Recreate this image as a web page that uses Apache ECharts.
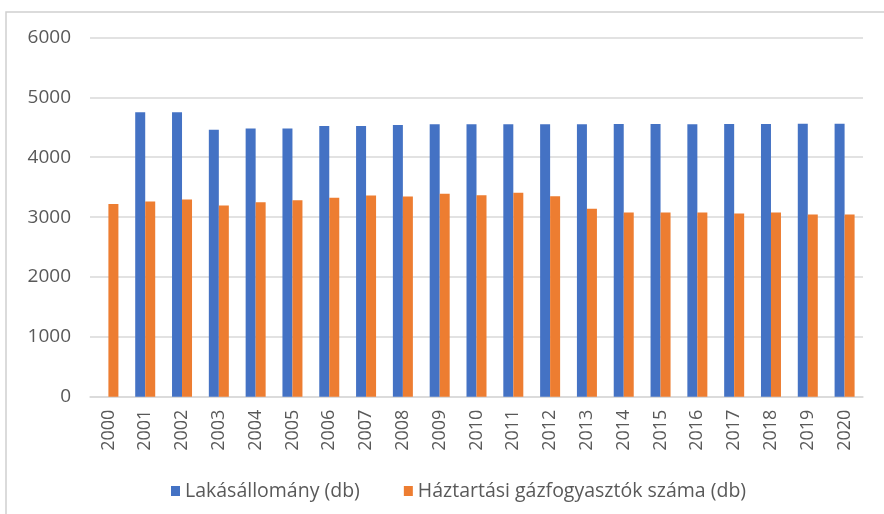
<!DOCTYPE html>
<html>
<head>
<meta charset="utf-8">
<script src="https://cdn.jsdelivr.net/npm/echarts@6/dist/echarts.min.js"></script>
<style>
  html, body { margin: 0; padding: 0; background: #fff; }
  #chart { width: 884px; height: 514px; }
</style>
</head>
<body>
<div id="chart"></div>
<script>
// Years on the category axis
const years = ['2000','2001','2002','2003','2004','2005','2006','2007','2008','2009','2010',
               '2011','2012','2013','2014','2015','2016','2017','2018','2019','2020'];

// Housing stock (dwellings) – no figure for 2000
const lakasallomany = [null, 4750, 4750, 4460, 4480, 4480, 4520, 4520, 4540, 4550, 4550,
                       4550, 4550, 4550, 4555, 4555, 4550, 4555, 4555, 4560, 4560];

// Household gas consumers
const gazfogyasztok = [3220, 3260, 3295, 3195, 3250, 3280, 3325, 3360, 3345, 3390, 3365,
                       3405, 3350, 3140, 3075, 3075, 3075, 3060, 3075, 3045, 3045];

// Value axis ticks
const yTicks = { min: 0, max: 6000, step: 1000 };

const seriesNames = ['Lakásállomány (db)', 'Háztartási gázfogyasztók száma (db)'];

const chart = echarts.init(document.getElementById('chart'), null, { renderer: 'canvas' });
const font = 'Open Sans, Liberation Sans, sans-serif';
const textGray = '#595959';

chart.setOption({
  animation: false,
  backgroundColor: '#ffffff',
  textStyle: { fontFamily: font },
  graphic: [
    {
      type: 'polyline',
      shape: { points: [[6, 514], [6, 12], [884, 12]] },
      style: { stroke: '#d0d0d0', lineWidth: 1.5, fill: null },
      silent: true
    }
  ],
  grid: { left: 90, right: 21, top: 37.5, bottom: 117.3, containLabel: false },
  legend: {
    left: 166,
    top: 476,
    itemWidth: 9,
    itemHeight: 10,
    itemGap: 44,
    icon: 'rect',
    textStyle: { color: textGray, fontSize: 19.5, fontFamily: font },
    data: seriesNames
  },
  xAxis: {
    type: 'category',
    data: years,
    boundaryGap: true,
    axisLine: { show: true, lineStyle: { color: '#d9d9d9', width: 1.5 } },
    axisTick: { show: false },
    axisLabel: { rotate: 90, color: textGray, fontSize: 18, margin: 13, fontFamily: font }
  },
  yAxis: {
    type: 'value',
    min: yTicks.min,
    max: yTicks.max,
    interval: yTicks.step,
    axisLine: { show: false },
    axisTick: { show: false },
    axisLabel: {
      color: textGray, fontSize: 19, margin: 19, fontFamily: font,
      formatter: v => String(v)
    },
    splitLine: { lineStyle: { color: '#d9d9d9', width: 1.5 } }
  },
  series: [
    {
      name: seriesNames[0],
      type: 'bar',
      data: lakasallomany,
      barWidth: 10,
      barGap: '0%',
      itemStyle: { color: '#4472C4' }
    },
    {
      name: seriesNames[1],
      type: 'bar',
      data: gazfogyasztok,
      barWidth: 10,
      barGap: '0%',
      itemStyle: { color: '#ED7D31' }
    }
  ]
});
</script>
</body>
</html>
